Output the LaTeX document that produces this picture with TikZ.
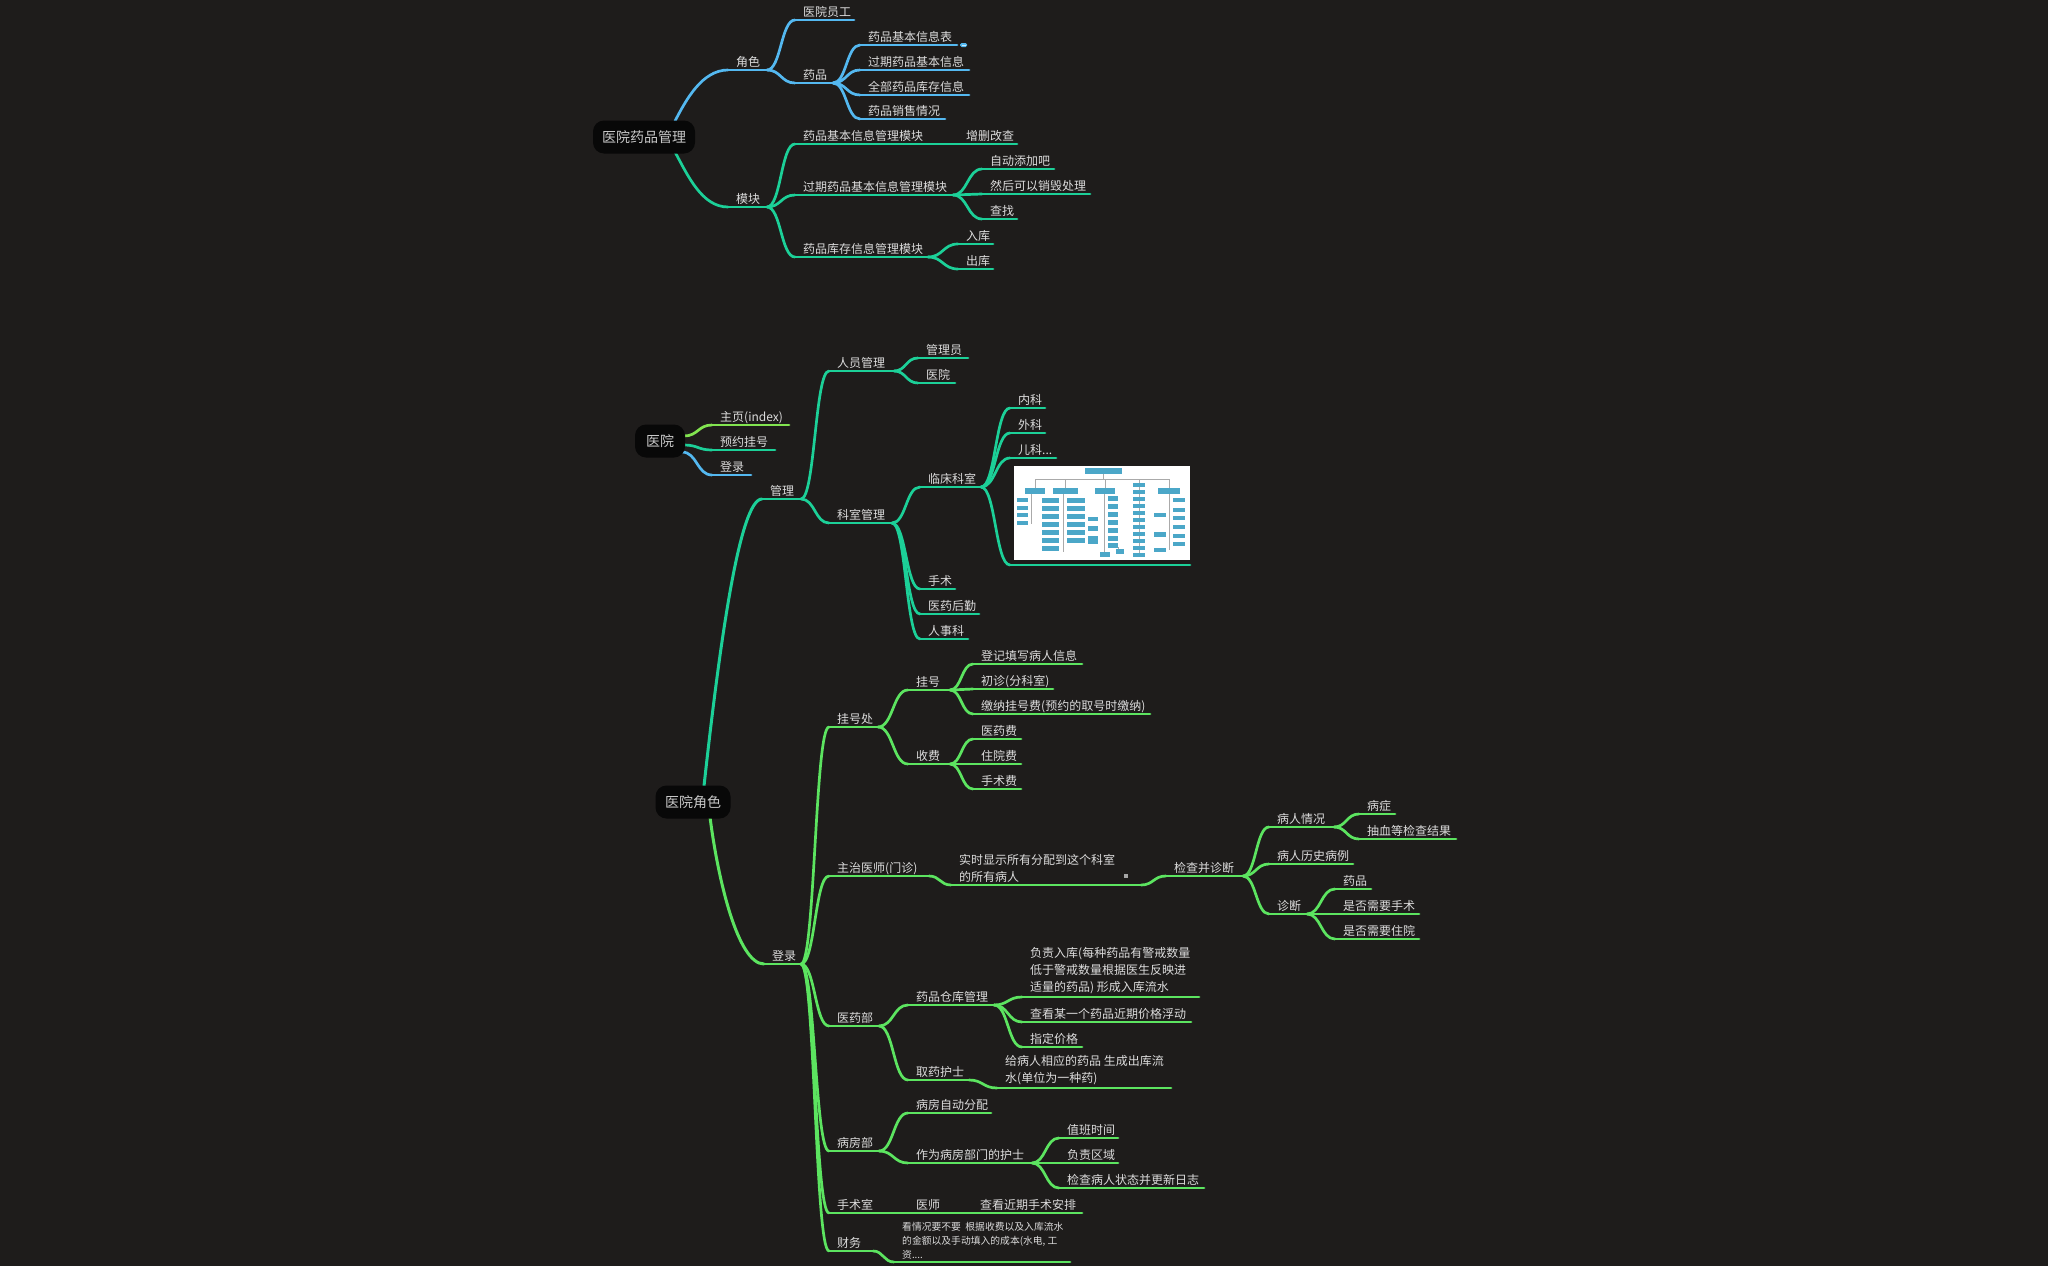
\documentclass[tikz,border=0pt]{standalone}
\usepackage{fontspec}
\newfontfamily\cjk{Noto Sans CJK SC}
\usetikzlibrary{calc}
\definecolor{bg}{RGB}{30,28,27}
\definecolor{tc}{RGB}{220,220,220}
\definecolor{roottc}{RGB}{200,200,200}
\definecolor{rootfill}{RGB}{8,8,8}
\definecolor{cblue}{RGB}{84,184,240}
\definecolor{cteal}{RGB}{28,208,152}
\definecolor{cgrn}{RGB}{92,228,96}
\definecolor{cygrn}{RGB}{130,228,80}
\definecolor{orgb}{RGB}{75,167,200}
\definecolor{orgline}{RGB}{170,170,170}
\tikzset{
  ln/.style={line width=2.7pt, line cap=round},
  trunk/.style={line width=3pt, line cap=round},
  txt/.style={text=tc, font=\cjk\fontsize{12}{17}\selectfont, inner sep=0pt},
  smalltxt/.style={text=tc, font=\cjk\fontsize{9.8}{14}\selectfont, inner sep=0pt},
  rootbox/.style={fill=rootfill, rounded corners=11pt, text=roottc, font=\cjk\fontsize{14}{16}\selectfont, minimum height=33pt, inner sep=0pt},
  orgl/.style={draw=orgline, line width=0.5pt},
}
\newcommand\tp[6]{%
  \coordinate (#1s) at (#3,#5);
  \coordinate (#1e) at (#4,#5);
  \draw[ln,#2] (#1s) -- (#1e);
  \node[txt,anchor=base west] (#1) at (#3+8,#5-3.5) {#6};}
\newcommand\tpm[6]{%
  \coordinate (#1s) at (#3,#5);
  \coordinate (#1e) at (#4,#5);
  \draw[ln,#2] (#1s) -- (#1e);
  \node[txt,anchor=south west,align=left] (#1) at (#3+8,#5-2.5) {#6};}
\newcommand\tps[6]{%
  \coordinate (#1s) at (#3,#5);
  \coordinate (#1e) at (#4,#5);
  \draw[ln,#2] (#1s) -- (#1e);
  \node[smalltxt,anchor=south west,align=left] (#1) at (#3+8,#5-2.5) {#6};}
\newcommand\cn[3]{\draw[ln,#1] let \p1=(#2), \p2=(#3) in (\p1) .. controls ({0.5*\x1+0.5*\x2},\y1) and ({0.5*\x1+0.5*\x2},\y2) .. (\p2);}
\begin{document}
\begin{tikzpicture}[x=1pt,y=-1pt]
\fill[bg] (0,0) rectangle (2048,1266);
\useasboundingbox (0,0) rectangle (2048,1266);

% ---------------- top tree ----------------
\coordinate (rootT) at (675,121);
\coordinate (rootB) at (675,152);
\tp{jiaose}{cblue}{728}{767}{70}{角色}
\tp{ygyg}{cblue}{795}{854}{20}{医院员工}
\tp{yp}{cblue}{795}{833}{83}{药品}
\tp{ypa}{cblue}{860}{957}{45}{药品基本信息表}
\tp{ypb}{cblue}{860}{969}{70}{过期药品基本信息}
\tp{ypc}{cblue}{860}{969}{95}{全部药品库存信息}
\tp{ypd}{cblue}{860}{945}{119}{药品销售情况}
\draw[ln,cblue] (rootT) .. controls (686,100) and (702,70) .. (jiaoses);
\cn{cblue}{jiaosee}{ygygs}
\cn{cblue}{jiaosee}{yps}
\cn{cblue}{ype}{ypas}
\cn{cblue}{ype}{ypbs}
\cn{cblue}{ype}{ypcs}
\cn{cblue}{ype}{ypds}
\node[fill=cblue, rounded corners=1.5pt, minimum width=7pt, minimum height=4pt, inner sep=0pt] (noteicon) at (963.5,45) {};
\node[fill=white!70!cblue, minimum width=4pt, minimum height=1pt, inner sep=0pt] (noteline) at (noteicon) {};

\tp{mk}{cteal}{728}{767}{207}{模块}
\tp{mka}{cteal}{795}{958}{144}{药品基本信息管理模块}
\tp{mkaa}{cteal}{958}{1017}{144}{增删改查}
\tp{mkb}{cteal}{795}{953}{195}{过期药品基本信息管理模块}
\tp{mkba}{cteal}{982}{1054}{169}{自动添加吧}
\tp{mkbb}{cteal}{982}{1090}{194}{然后可以销毁处理}
\tp{mkbc}{cteal}{982}{1017}{219}{查找}
\tp{mkc}{cteal}{795}{928}{257}{药品库存信息管理模块}
\tp{mkca}{cteal}{958}{993}{244}{入库}
\tp{mkcb}{cteal}{958}{993}{269}{出库}
\draw[ln,cteal] (rootB) .. controls (688,176) and (702,207) .. (mks);
\cn{cteal}{mke}{mkas}
\cn{cteal}{mke}{mkbs}
\cn{cteal}{mke}{mkcs}
\cn{cteal}{mkbe}{mkbas}
\cn{cteal}{mkbe}{mkbbs}
\cn{cteal}{mkbe}{mkbcs}
\cn{cteal}{mkce}{mkcas}
\cn{cteal}{mkce}{mkcbs}
\node[rootbox, minimum width=102pt] (root) at (644,137) {医院药品管理};

% ---------------- 医院 ----------------
\coordinate (hA) at (684,436);
\coordinate (hB) at (684,445);
\coordinate (hC) at (682,452);
\tp{zy}{cygrn}{712}{789}{425}{主页(index)}
\tp{yy}{cteal}{712}{775}{450}{预约挂号}
\tp{dlo}{cblue}{712}{751}{475}{登录}
\cn{cygrn}{hA}{zys}
\cn{cteal}{hB}{yys}
\cn{cblue}{hC}{dlos}
\node[rootbox, minimum width=50pt] (hosp) at (660,441) {医院};

% ---------------- 医院角色: 管理 ----------------
\coordinate (hyT) at (704,786);
\coordinate (hyB) at (710,817);
\tp{gl}{cteal}{762}{801}{499}{管理}
\tp{rygl}{cteal}{829}{894}{371}{人员管理}
\tp{gly}{cteal}{918}{968}{358}{管理员}
\tp{yyb}{cteal}{918}{955}{383}{医院}
\tp{ksgl}{cteal}{829}{892}{523}{科室管理}
\tp{lcks}{cteal}{920}{981}{487}{临床科室}
\tp{nk}{cteal}{1010}{1045}{408}{内科}
\tp{wk}{cteal}{1010}{1045}{433}{外科}
\tp{ek}{cteal}{1010}{1056}{458}{儿科...}
\coordinate (imgs) at (1010,565);
\coordinate (imge) at (1190,565);
\draw[ln,cteal] (imgs) -- (imge);
\tp{ss}{cteal}{920}{955}{589}{手术}
\tp{yyhq}{cteal}{920}{979}{614}{医药后勤}
\tp{rsk}{cteal}{920}{968}{639}{人事科}
\draw[trunk,cteal] (hyT) .. controls (720,640) and (740,499) .. (gls);
\cn{cteal}{gle}{rygls}
\cn{cteal}{gle}{ksgls}
\cn{cteal}{rygle}{glys}
\cn{cteal}{rygle}{yybs}
\cn{cteal}{ksgle}{lckss}
\cn{cteal}{ksgle}{sss}
\cn{cteal}{ksgle}{yyhqs}
\cn{cteal}{ksgle}{rsks}
\cn{cteal}{lckse}{nks}
\cn{cteal}{lckse}{wks}
\cn{cteal}{lckse}{eks}
\cn{cteal}{lckse}{imgs}

% image thumbnail (org chart)
\fill[white] (1014,466) rectangle (1190,560);
\draw[orgl] (1103,474)--(1103,479) (1035,479)--(1170,479);
\foreach \x in {1035,1065,1105,1169} \draw[orgl] (\x,479)--(\x,488);
\draw[orgl] (1139,479)--(1139,555);
\fill[orgb] (1085,468) rectangle (1122,474);
\fill[orgb] (1025,488) rectangle (1045,494);
\fill[orgb] (1053,488) rectangle (1078,494);
\fill[orgb] (1095,488) rectangle (1115,494);
\fill[orgb] (1158,488) rectangle (1180,494);
\draw[orgl] (1031,494)--(1031,524);
\foreach \y in {498,506,513,521} \fill[orgb] (1017,\y) rectangle (1028,\y+4);
\draw[orgl] (1063,494)--(1063,552);
\foreach \y in {498,506,514,522,530,538,546} \fill[orgb] (1042,\y) rectangle (1059,\y+5);
\foreach \y in {498,506,514,522,530,538} \fill[orgb] (1067,\y) rectangle (1085,\y+5);
\draw[orgl] (1104,494)--(1104,552) (1118,547)--(1118,551);
\foreach \y in {496,504,512,520,528,536,543} \fill[orgb] (1108,\y) rectangle (1118,\y+5);
\fill[orgb] (1088,517) rectangle (1098,521);
\fill[orgb] (1088,526) rectangle (1098,531);
\fill[orgb] (1088,536) rectangle (1098,544);
\fill[orgb] (1100,552) rectangle (1110,557);
\fill[orgb] (1116,549) rectangle (1124,554);
\foreach \y in {483,490,497,504,511,518,525,532,539,546,553} \fill[orgb] (1133,\y) rectangle (1145,\y+4);
\draw[orgl] (1169,494)--(1169,550);
\fill[orgb] (1154,513) rectangle (1166,517);
\fill[orgb] (1154,532) rectangle (1166,537);
\fill[orgb] (1154,548) rectangle (1166,552);
\foreach \y in {498,508,516,525,534,542} \fill[orgb] (1173,\y) rectangle (1185,\y+4);

% ---------------- 医院角色: 登录 ----------------
\tp{dl}{cgrn}{764}{801}{964}{登录}
\tp{ghc}{cgrn}{829}{878}{727}{挂号处}
\tp{gh}{cgrn}{908}{950}{690}{挂号}
\tp{djtx}{cgrn}{973}{1082}{664}{登记填写病人信息}
\tp{cz}{cgrn}{973}{1053}{689}{初诊(分科室)}
\tp{jn}{cgrn}{973}{1150}{714}{缴纳挂号费(预约的取号时缴纳)}
\tp{sf}{cgrn}{908}{950}{764}{收费}
\tp{yyf}{cgrn}{973}{1021}{739}{医药费}
\tp{zyf}{cgrn}{973}{1021}{764}{住院费}
\tp{ssf}{cgrn}{973}{1021}{789}{手术费}
\tp{zzys}{cgrn}{829}{929}{876}{主治医师(门诊)}
\tpm{ssxs}{cgrn}{951}{1141}{885}{实时显示所有分配到这个科室\\的所有病人}
\tp{jczd}{cgrn}{1166}{1243}{876}{检查并诊断}
\tp{brqk}{cgrn}{1269}{1334}{827}{病人情况}
\tp{bz}{cgrn}{1359}{1395}{814}{病症}
\tp{cx}{cgrn}{1359}{1456}{839}{抽血等检查结果}
\tp{brls}{cgrn}{1269}{1353}{864}{病人历史病例}
\tp{zd}{cgrn}{1269}{1307}{914}{诊断}
\tp{ypz}{cgrn}{1335}{1371}{889}{药品}
\tp{sfss}{cgrn}{1335}{1419}{914}{是否需要手术}
\tp{sfzy}{cgrn}{1335}{1419}{939}{是否需要住院}
\tp{yybu}{cgrn}{829}{879}{1026}{医药部}
\tp{ypck}{cgrn}{908}{994}{1005}{药品仓库管理}
\tpm{fzrk}{cgrn}{1022}{1199}{997}{负责入库(每种药品有警戒数量\\低于警戒数量根据医生反映进\\适量的药品) 形成入库流水}
\tp{ckjg}{cgrn}{1022}{1191}{1022}{查看某一个药品近期价格浮动}
\tp{zdjg}{cgrn}{1022}{1082}{1047}{指定价格}
\tp{qyhs}{cgrn}{908}{969}{1080}{取药护士}
\tpm{gbr}{cgrn}{997}{1171}{1088}{给病人相应的药品 生成出库流\\水(单位为一种药)}
\tp{bfb}{cgrn}{829}{879}{1151}{病房部}
\tp{bfzd}{cgrn}{908}{991}{1113}{病房自动分配}
\tp{zwbf}{cgrn}{908}{1032}{1163}{作为病房部门的护士}
\tp{zbsj}{cgrn}{1059}{1118}{1138}{值班时间}
\tp{fzqy}{cgrn}{1059}{1118}{1163}{负责区域}
\tp{jcbr}{cgrn}{1059}{1204}{1188}{检查病人状态并更新日志}
\tp{ssh}{cgrn}{829}{908}{1213}{手术室}
\tp{ysh}{cgrn}{908}{972}{1213}{医师}
\tp{ckss}{cgrn}{972}{1082}{1213}{查看近期手术安排}
\tp{cw}{cgrn}{829}{873}{1251}{财务}
\tps{kqk}{cgrn}{894}{1070}{1262}{看情况要不要\ \ 根据收费以及入库流水\\的金额以及手动填入的成本(水电, 工\\资....}
\draw[trunk,cgrn] (hyB) .. controls (718,880) and (738,964) .. (dls);
\cn{cgrn}{dle}{ghcs}
\cn{cgrn}{dle}{zzyss}
\cn{cgrn}{dle}{yybus}
\cn{cgrn}{dle}{bfbs}
\cn{cgrn}{dle}{sshs}
\cn{cgrn}{dle}{cws}
\cn{cgrn}{ghce}{ghs}
\cn{cgrn}{ghce}{sfs}
\cn{cgrn}{ghe}{djtxs}
\cn{cgrn}{ghe}{czs}
\cn{cgrn}{ghe}{jns}
\cn{cgrn}{sfe}{yyfs}
\cn{cgrn}{sfe}{zyfs}
\cn{cgrn}{sfe}{ssfs}
\cn{cgrn}{zzyse}{ssxss}
\cn{cgrn}{ssxse}{jczds}
\cn{cgrn}{jczde}{brqks}
\cn{cgrn}{jczde}{brlss}
\cn{cgrn}{jczde}{zds}
\cn{cgrn}{brqke}{bzs}
\cn{cgrn}{brqke}{cxs}
\cn{cgrn}{zde}{ypzs}
\cn{cgrn}{zde}{sfsss}
\cn{cgrn}{zde}{sfzys}
\cn{cgrn}{yybue}{ypcks}
\cn{cgrn}{yybue}{qyhss}
\cn{cgrn}{ypcke}{fzrks}
\cn{cgrn}{ypcke}{ckjgs}
\cn{cgrn}{ypcke}{zdjgs}
\cn{cgrn}{qyhse}{gbrs}
\cn{cgrn}{bfbe}{bfzds}
\cn{cgrn}{bfbe}{zwbfs}
\cn{cgrn}{zwbfe}{zbsjs}
\cn{cgrn}{zwbfe}{fzqys}
\cn{cgrn}{zwbfe}{jcbrs}
\cn{cgrn}{cwe}{kqks}
\node[fill=gray!70, minimum size=4pt, inner sep=0pt] (grayicon) at (1126,876) {};

\node[rootbox, minimum width=75pt] (hyjs) at (693,802) {医院角色};
\end{tikzpicture}
\end{document}
